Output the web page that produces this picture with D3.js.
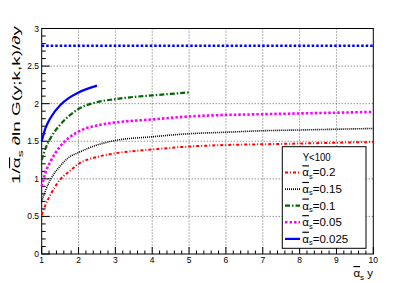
<!DOCTYPE html>
<html><head><meta charset="utf-8">
<script src="https://cdn.jsdelivr.net/npm/d3@7"></script>
<style>
body{margin:0;background:#fff;}
text{font-family:"Liberation Sans",Arial,sans-serif;fill:#000;}
</style></head>
<body><svg id="c" width="415" height="283"></svg>
<script>
// ---- data ----
const xRed   = [1,1.1,1.25,1.5,1.75,2,2.5,3,4,5,6,7,8,9,10];
const yRed   = [0.52,0.65,0.80,0.99,1.10,1.20,1.29,1.34,1.39,1.43,1.45,1.46,1.47,1.48,1.49];
const xBlack = [1,1.1,1.25,1.5,1.75,2,2.5,3,4,5,6,7,8,9,10];
const yBlack = [0.70,0.84,1.00,1.17,1.29,1.35,1.45,1.51,1.56,1.60,1.62,1.64,1.65,1.66,1.67];
const xGreen = [1,1.1,1.25,1.5,1.75,2,2.5,3,3.5,4,4.5,5];
const yGreen = [1.25,1.40,1.55,1.72,1.84,1.93,2.02,2.06,2.09,2.11,2.13,2.15];
const xMag   = [1,1.1,1.25,1.5,1.75,2,2.5,3,4,5,6,7,8,9,10];
const yMag   = [0.90,1.08,1.24,1.43,1.55,1.63,1.71,1.75,1.79,1.83,1.85,1.86,1.87,1.88,1.89];
const xBlue  = [1,1.1,1.25,1.5,1.75,2,2.25,2.5];
const yBlue  = [1.50,1.67,1.82,1.98,2.08,2.15,2.20,2.24];
const xLimit = [1,10];
const yLimit = [2.77,2.77];
const xTicks = [1,2,3,4,5,6,7,8,9,10];
const yTicks = [0,0.5,1,1.5,2,2.5,3];
const legendHeader = "Y<100";
const legendLabels = ["=0.2","=0.15","=0.1","=0.05","=0.025"];

const svg = d3.select("#c");
const L=41.7,R=373.3,T=28.5,B=254;
const x = d3.scaleLinear().domain([1,10]).range([L,R]);
const y = d3.scaleLinear().domain([0,3]).range([B,T]);

// grid
const g = svg.append("g");
g.selectAll(".gx").data(xTicks.slice(1,-1)).enter().append("line")
 .attr("x1",d=>x(d)).attr("x2",d=>x(d)).attr("y1",T).attr("y2",B)
 .attr("stroke","#555").attr("stroke-width",0.9).attr("stroke-dasharray","1,2");
g.selectAll(".gy").data(yTicks.slice(1,-1)).enter().append("line")
 .attr("y1",d=>y(d)).attr("y2",d=>y(d)).attr("x1",L).attr("x2",R)
 .attr("stroke","#555").attr("stroke-width",0.9).attr("stroke-dasharray","1,2");

// axes ticks (inside)
const xMinor = d3.range(1,10.001,0.2);
svg.selectAll(".xm").data(xMinor).enter().append("line")
 .attr("x1",d=>x(d)).attr("x2",d=>x(d)).attr("y1",B).attr("y2",d=>B-(Math.abs(d-Math.round(d))<1e-6?7:3.5))
 .attr("stroke","#000").attr("stroke-width",1);
const yMinor = d3.range(0,3.001,0.1);
svg.selectAll(".ym").data(yMinor).enter().append("line")
 .attr("y1",d=>y(d)).attr("y2",d=>y(d)).attr("x1",L).attr("x2",d=>L+(Math.abs(d*2-Math.round(d*2))<1e-6?8:4))
 .attr("stroke","#000").attr("stroke-width",1);

// tick labels
svg.selectAll(".xl").data(xTicks).enter().append("text")
 .attr("x",d=>x(d)).attr("y",263).attr("text-anchor","middle").attr("font-size",8.5).text(d=>d);
svg.selectAll(".yl").data(yTicks).enter().append("text")
 .attr("x",39).attr("y",d=>y(d)+3).attr("text-anchor","end").attr("font-size",8.5).text(d=>d);

// frame
svg.append("rect").attr("x",L).attr("y",T).attr("width",R-L).attr("height",B-T)
 .attr("fill","none").attr("stroke","#000").attr("stroke-width",1);

// curves
const line = d3.line().x(d=>x(d[0])).y(d=>y(d[1])).curve(d3.curveMonotoneX);
const series = [
 {xs:xRed,ys:yRed,color:"#ff0000",w:2,dash:"3,2,1,2"},
 {xs:xBlack,ys:yBlack,color:"#000000",w:1.6,dash:"1,1"},
 {xs:xGreen,ys:yGreen,color:"#006600",w:2.2,dash:"5,2,1.5,2"},
 {xs:xMag,ys:yMag,color:"#ff00ff",w:2.6,dash:"2.5,2"},
 {xs:xBlue,ys:yBlue,color:"#0000ff",w:2.2,dash:null}
];
series.forEach(s=>{
 svg.append("path").datum(d3.zip(s.xs,s.ys)).attr("d",line)
  .attr("fill","none").attr("stroke",s.color).attr("stroke-width",s.w)
  .attr("stroke-dasharray",s.dash);
});
svg.append("path").datum(d3.zip(xLimit,yLimit)).attr("d",d3.line().x(d=>x(d[0])).y(d=>y(d[1])))
 .attr("fill","none").attr("stroke","#0000ff").attr("stroke-width",2.4).attr("stroke-dasharray","2.5,2");

// legend
const lg = svg.append("g");
lg.append("rect").attr("x",282.3).attr("y",146.7).attr("width",83.7).attr("height",101.6)
 .attr("fill","#fff").attr("stroke","#000").attr("stroke-width",1);
lg.append("text").attr("x",302.7).attr("y",160.5).attr("font-size",11).attr("textLength",28).attr("lengthAdjust","spacingAndGlyphs").text(legendHeader);
legendLabels.forEach((lab,i)=>{
 const yy = 172.5 + i*16.6;
 const s = series[i];
 lg.append("line").attr("x1",285).attr("x2",300).attr("y1",yy).attr("y2",yy)
  .attr("stroke",s.color).attr("stroke-width",s.w).attr("stroke-dasharray",s.dash);
 const t = lg.append("text").attr("x",302.3).attr("y",yy+3.8).attr("font-size",11.5);
 t.append("tspan").attr("text-decoration","overline").text("α");
 t.append("tspan").attr("font-size",7.5).attr("dy",2.5).text("s");
 t.append("tspan").attr("dy",-2.5).text(lab);
});

// axis titles
const xt = svg.append("text").attr("x",373).attr("y",277).attr("text-anchor","end").attr("font-size",11.5);
xt.append("tspan").attr("text-decoration","overline").text("α");
xt.append("tspan").attr("font-size",8).attr("dy",3).text("s");
xt.append("tspan").attr("dy",-3).text(" y");

const yt = svg.append("text").attr("transform","translate(20,26) rotate(-90)").attr("text-anchor","end")
 .attr("font-size",11).attr("textLength",158).attr("lengthAdjust","spacingAndGlyphs");
yt.append("tspan").text("1/");
yt.append("tspan").attr("text-decoration","overline").text("α");
yt.append("tspan").attr("font-size",8).attr("dy",3).text("s");
yt.append("tspan").attr("dy",-3).text(" ∂ln G(y;k,k)/∂y");
</script></body></html>
